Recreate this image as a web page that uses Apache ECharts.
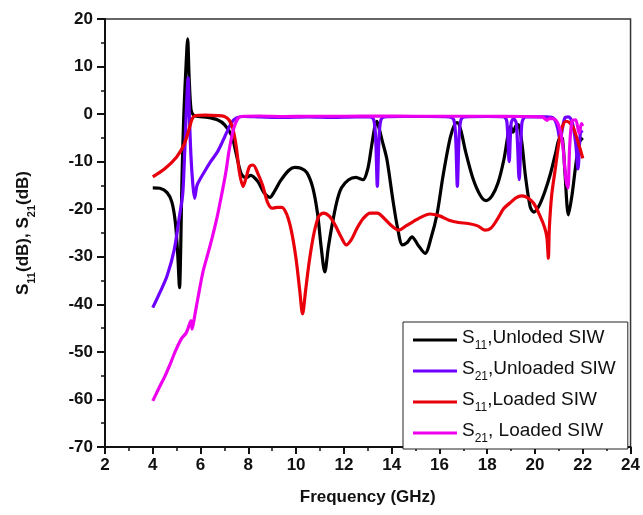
<!DOCTYPE html>
<html>
<head>
<meta charset="utf-8">
<script src="https://cdn.jsdelivr.net/npm/echarts@6/dist/echarts.min.js"></script>
<style>
	html, body { margin: 0; padding: 0; background: #fff; }
	#chart { width: 643px; height: 515px; }
</style>
</head>
<body>
<div id="chart"></div>
<script>
	// frequency (GHz) / magnitude (dB)
	var s11UnloadedFreq = [4.0, 4.3, 4.6, 4.8, 4.95, 5.05, 5.12, 5.17, 5.22, 5.3, 5.4, 5.46, 5.52, 5.6, 5.7, 5.9, 6.3, 6.7, 7.0, 7.3, 7.5, 7.7, 7.9, 8.1, 8.4, 8.65, 8.9, 9.1, 9.35, 9.7, 9.95, 10.2, 10.45, 10.7, 10.9, 11.05, 11.2, 11.35, 11.5, 11.7, 11.9, 12.2, 12.5, 12.8, 13.0, 13.15, 13.3, 13.38, 13.45, 13.6, 13.8, 14.05, 14.25, 14.45, 14.65, 14.85, 15.1, 15.4, 15.65, 15.9, 16.15, 16.45, 16.65, 16.75, 16.9, 17.1, 17.4, 17.7, 17.95, 18.2, 18.45, 18.7, 18.9, 18.98, 19.08, 19.2, 19.3, 19.45, 19.6, 19.8, 19.95, 20.15, 20.4, 20.65, 20.85, 21.05, 21.15, 21.25, 21.4, 21.55, 21.7, 21.85, 22.0];
	var s11UnloadedDb = [-15.5, -15.6, -16.5, -18.5, -23, -30, -36.5, -28, -14, 0, 11, 15.8, 8, 1, -0.2, -0.5, -0.7, -1.2, -2.2, -4.5, -8.5, -12.5, -13.4, -12.9, -14.2, -16.5, -17.5, -16.2, -14, -11.8, -11.2, -11.4, -12.3, -15.5, -21, -28, -33.2, -28, -23.5, -18.5, -15.5, -13.8, -13.3, -13.8, -11.5, -7, -2.5, -1.5, -2.5, -5.5, -9.5, -18, -24, -27.5, -27, -25.8, -27.5, -29.3, -26, -21, -13, -5, -2, -1.8, -3.5, -8, -13.5, -17, -18.2, -17.2, -14.5, -9.5, -3.5, -2.6, -3.8, -2.5, -2.2, -6, -13, -19.5, -20.6, -19.5, -16.5, -12.5, -8.5, -5, -5.2, -12, -21.2, -17, -11, -6, -5];

	var s21UnloadedFreq = [4.0, 4.3, 4.6, 4.9, 5.1, 5.25, 5.32, 5.4, 5.48, 5.53, 5.6, 5.68, 5.75, 5.85, 6.0, 6.2, 6.45, 6.7, 6.9, 7.1, 7.3, 7.5, 7.8, 8.5, 9.5, 10.5, 11.5, 12.5, 13.1, 13.25, 13.33, 13.4, 13.47, 13.55, 13.7, 14.5, 15.5, 16.4, 16.6, 16.68, 16.75, 16.82, 16.9, 17.05, 18.0, 18.7, 18.82, 18.92, 19.0, 19.1, 19.22, 19.34, 19.45, 19.6, 20.5, 20.8, 20.95, 21.05, 21.15, 21.25, 21.4, 21.55, 21.7, 21.8, 21.9, 22.0];
	var s21UnloadedDb = [-40.7, -37.5, -34, -28.5, -22, -17, -10, 0, 7.6, 0, -9, -15, -17.7, -15, -13.5, -11.8, -9.8, -8, -6, -3.8, -1.8, -0.8, -0.5, -0.6, -0.7, -0.6, -0.7, -0.6, -0.6, -1.2, -5, -15.2, -5, -1.2, -0.6, -0.5, -0.5, -0.6, -1.2, -5, -15.2, -5, -1.2, -0.6, -0.5, -0.6, -1.5, -10, -2, -0.9, -2, -13.8, -2, -0.6, -0.6, -1, -3, -5.5, -3, -0.8, -0.6, -1.5, -6, -11.5, -4, -3.5];

	var s11LoadedFreq = [4.0, 4.5, 5.0, 5.3, 5.5, 5.65, 5.8, 6.2, 6.7, 7.0, 7.2, 7.35, 7.5, 7.62, 7.78, 7.9, 8.05, 8.2, 8.4, 8.6, 8.8, 9.0, 9.2, 9.4, 9.6, 9.8, 10.0, 10.15, 10.27, 10.4, 10.55, 10.75, 10.95, 11.15, 11.4, 11.65, 11.9, 12.1, 12.3, 12.55, 12.8, 13.1, 13.4, 13.7, 14.0, 14.3, 14.6, 14.9, 15.3, 15.6, 16.0, 16.4, 16.8, 17.2, 17.6, 17.9, 18.15, 18.4, 18.7, 18.95, 19.2, 19.45, 19.7, 19.95, 20.2, 20.4, 20.5, 20.56, 20.6, 20.7, 20.85, 21.0, 21.15, 21.3, 21.45, 21.6, 21.75, 21.9, 22.0];
	var s11LoadedDb = [-13.2, -11.5, -9, -6.5, -3.5, -1, -0.3, -0.2, -0.3, -0.5, -1.3, -3, -7, -12, -15.2, -13.5, -11, -10.7, -12.5, -15, -18.5, -19.8, -19.6, -19.6, -21, -24.5, -30.5, -37, -42, -37, -31, -25, -21.5, -20.8, -21.5, -23.5, -26, -27.5, -26.5, -24, -22, -20.8, -20.8, -22, -23.5, -24.4, -23.5, -22.6, -21.5, -21, -21.4, -22.3, -22.8, -23, -23.5, -24.4, -24, -22.3, -19.8, -18.7, -17.6, -17.2, -17.6, -18.8, -21.3, -23.8, -26, -30.3, -24, -17, -11.5, -6, -2.6, -1.5, -1.8, -2.8, -5, -7.5, -9.3];

	var s21LoadedFreq = [4.0, 4.25, 4.5, 4.75, 4.95, 5.2, 5.4, 5.55, 5.6, 5.64, 5.68, 5.77, 5.9, 6.1, 6.3, 6.5, 6.7, 6.9, 7.05, 7.2, 7.37, 7.55, 7.7, 8.5, 9.5, 10.5, 12, 13.5, 15, 16.5, 18, 19.5, 20.3, 20.5, 20.6, 20.8, 21.0, 21.15, 21.3, 21.38, 21.45, 21.55, 21.7, 21.85, 21.95, 22.0];
	var s21LoadedDb = [-60.3, -57.7, -55.2, -52.3, -49.8, -47.2, -46, -44, -43.4, -45.2, -44.5, -42, -38.4, -33.2, -29.5, -25.7, -21.5, -16.5, -12.5, -7.5, -3.3, -1.0, -0.5, -0.4, -0.5, -0.45, -0.45, -0.4, -0.45, -0.45, -0.45, -0.5, -0.6, -1.3, -0.9, -1.0, -2.5, -6, -14, -15.5, -7, -1.5, -1.2, -4, -2, -2.5];

	var seriesNames = ["S11,Unloded SIW", "S21,Unloaded SIW", "S11,Loaded SIW", "S21, Loaded SIW"];
	var seriesColors = ["#000000", "#6f00ff", "#e8000b", "#ee00ee"];
	var xTicks = [2, 4, 6, 8, 10, 12, 14, 16, 18, 20, 22, 24];
	var yTicks = [-70, -60, -50, -40, -30, -20, -10, 0, 10, 20];

	function zip(xs, ys) {
		return xs.map(function (x, i) {
			return [x, ys[i]];
		});
	}

	var seriesData = [
		zip(s11UnloadedFreq, s11UnloadedDb),
		zip(s21UnloadedFreq, s21UnloadedDb),
		zip(s11LoadedFreq, s11LoadedDb),
		zip(s21LoadedFreq, s21LoadedDb)
	];

	var font = "'Liberation Sans', Arial, sans-serif";

	var chart = echarts.init(document.getElementById("chart"), null, {renderer: "canvas"});

	var option = {
		animation: false,
		backgroundColor: "#fff",
		textStyle: {
			fontFamily: font
		},
		grid: {
			left: 105,
			right: 12,
			top: 19,
			bottom: 68,
			show: true,
			borderColor: "#333",
			borderWidth: 1.5
		},
		legend: {
			orient: "vertical",
			left: 403,
			top: 322,
			padding: [6, 12, 4, 10],
			itemGap: 7,
			itemWidth: 44,
			itemHeight: 3,
			icon: "rect",
			borderColor: "#222",
			borderWidth: 1,
			backgroundColor: "#fff",
			data: seriesNames,
			formatter: function (name) {
				var m = name.match(/^S(\d+)(.*)$/);
				return "{n|S}{s|" + m[1] + "}{n|" + m[2] + "}";
			},
			textStyle: {
				fontFamily: font,
				color: "#111",
				rich: {
					n: {
						fontSize: 19,
						fontFamily: font,
						lineHeight: 24,
						verticalAlign: "top"
					},
					s: {
						fontSize: 12,
						fontFamily: font,
						lineHeight: 10,
						verticalAlign: "bottom"
					}
				}
			}
		},
		xAxis: {
			type: "value",
			min: xTicks[0],
			max: xTicks[xTicks.length - 1],
			interval: 2,
			name: "Frequency (GHz)",
			nameLocation: "middle",
			nameGap: 42,
			nameTextStyle: {
				fontSize: 17,
				fontWeight: "bold",
				fontFamily: font,
				color: "#111"
			},
			axisLine: {
				onZero: false,
				lineStyle: {color: "#111", width: 2}
			},
			axisTick: {
				inside: false,
				length: 7,
				lineStyle: {color: "#111", width: 2}
			},
			minorTick: {
				show: true,
				splitNumber: 2,
				length: 4,
				lineStyle: {color: "#111", width: 1.5}
			},
			axisLabel: {
				margin: 10,
				fontSize: 17,
				fontWeight: "bold",
				fontFamily: font,
				color: "#111"
			},
			splitLine: {show: false}
		},
		yAxis: {
			type: "value",
			min: yTicks[0],
			max: yTicks[yTicks.length - 1],
			interval: 10,
			name: "{b|S}{bs|11}{b|(dB), S}{bs|21}{b|(dB)}",
			nameLocation: "middle",
			nameGap: 68,
			nameRotate: 90,
			nameTextStyle: {
				color: "#111",
				rich: {
					b: {
						fontSize: 17,
						fontWeight: "bold",
						fontFamily: font,
						lineHeight: 22,
						verticalAlign: "top"
					},
					bs: {
						fontSize: 11,
						fontWeight: "bold",
						fontFamily: font,
						lineHeight: 10,
						verticalAlign: "bottom"
					}
				}
			},
			axisLine: {
				show: true,
				onZero: false,
				lineStyle: {color: "#111", width: 2}
			},
			axisTick: {
				show: true,
				inside: false,
				length: 8,
				lineStyle: {color: "#111", width: 2}
			},
			minorTick: {
				show: true,
				splitNumber: 2,
				length: 4,
				lineStyle: {color: "#111", width: 1.5}
			},
			axisLabel: {
				margin: 12,
				fontSize: 17,
				fontWeight: "bold",
				fontFamily: font,
				color: "#111"
			},
			splitLine: {show: false}
		},
		series: seriesNames.map(function (name, i) {
			return {
				name: name,
				type: "line",
				data: seriesData[i],
				smooth: 0.3,
				showSymbol: false,
				symbol: "none",
				color: seriesColors[i],
				lineStyle: {
					color: seriesColors[i],
					width: 3.2
				},
				z: 2 + i
			};
		})
	};

	chart.setOption(option);
</script>
</body>
</html>
